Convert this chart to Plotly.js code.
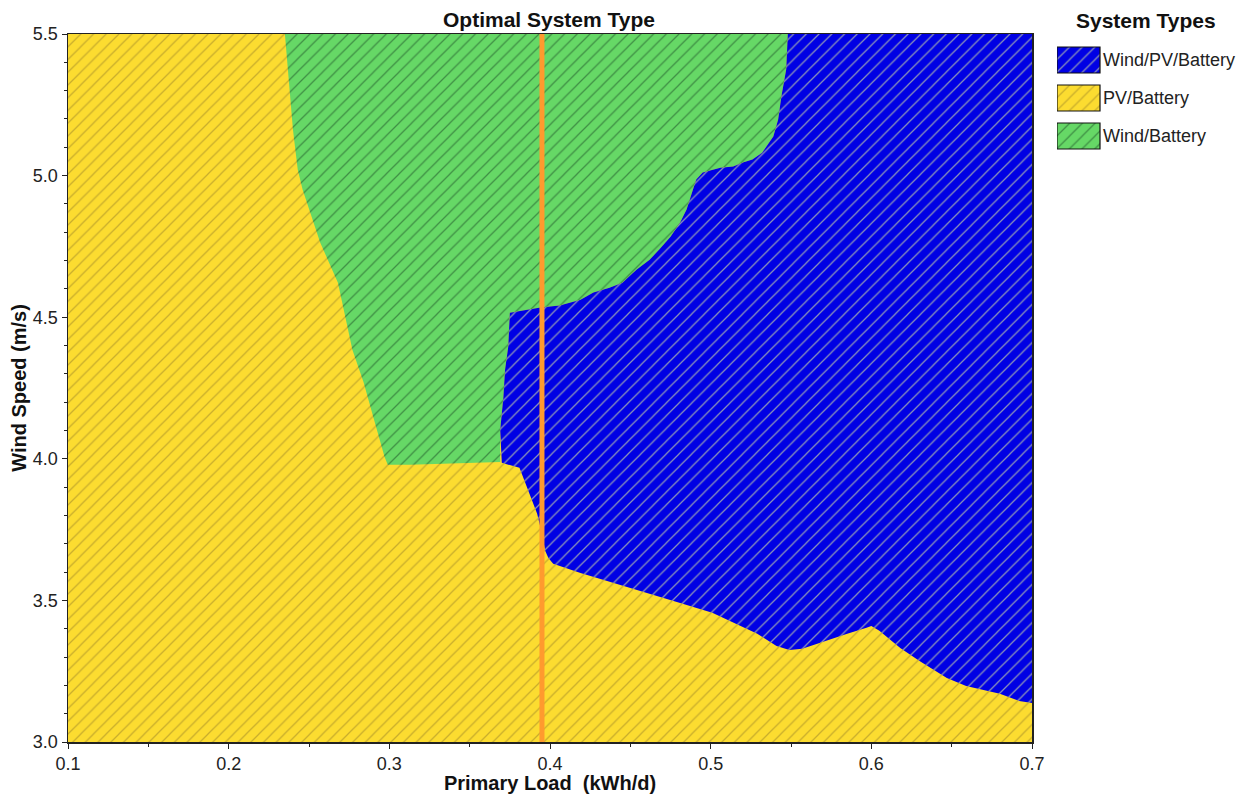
<!DOCTYPE html>
<html>
<head>
<meta charset="utf-8">
<script src="https://cdn.plot.ly/plotly-3.0.1.min.js"></script>
<style>html,body{margin:0;padding:0;background:#fff;}#chart{width:1255px;height:794px;}</style>
</head>
<body>
<div id="chart"></div>
<script>
// Axis ranges
const loadRange = [0.1, 0.7];
const windRange = [3.0, 5.5];
const xTickVals = [0.1, 0.2, 0.3, 0.4, 0.5, 0.6, 0.7];
const xTickText = ["0.1", "0.2", "0.3", "0.4", "0.5", "0.6", "0.7"];
const yTickVals = [3.0, 3.5, 4.0, 4.5, 5.0, 5.5];
const yTickText = ["3.0", "3.5", "4.0", "4.5", "5.0", "5.5"];

// System type names (legend order)
const systemTypes = ["Wind/PV/Battery", "PV/Battery", "Wind/Battery"];

// PV/Battery region (whole chart background)
const pvX = [0.1, 0.7, 0.7, 0.1, 0.1];
const pvY = [3.0, 3.0, 5.5, 5.5, 3.0];

// Wind/Battery region boundary
const windX = [0.235, 0.240, 0.243, 0.246, 0.257, 0.268, 0.277, 0.284, 0.290, 0.297, 0.299, 0.313, 0.369,
  0.369, 0.371, 0.372, 0.374, 0.375, 0.394, 0.406, 0.419, 0.427, 0.437, 0.445, 0.454, 0.462, 0.468, 0.475,
  0.481, 0.485, 0.489, 0.491, 0.495, 0.506, 0.514, 0.520, 0.526, 0.532, 0.539, 0.542, 0.544, 0.547, 0.548, 0.235];
const windY = [5.5, 5.163, 5.021, 4.951, 4.763, 4.622, 4.385, 4.269, 4.148, 4.007, 3.979, 3.979, 3.989,
  4.102, 4.219, 4.314, 4.396, 4.516, 4.534, 4.541, 4.562, 4.587, 4.604, 4.622, 4.668, 4.703, 4.739, 4.784,
  4.834, 4.880, 4.951, 4.986, 5.011, 5.028, 5.032, 5.046, 5.057, 5.081, 5.138, 5.198, 5.279, 5.375, 5.5, 5.5];

// Wind/PV/Battery region boundary
const hybridX = [0.548, 0.7, 0.7, 0.692, 0.680, 0.659, 0.647, 0.630, 0.618, 0.605, 0.600, 0.597, 0.585, 0.572,
  0.557, 0.549, 0.541, 0.529, 0.516, 0.501, 0.481, 0.460, 0.439, 0.419, 0.402, 0.399, 0.397, 0.395, 0.392,
  0.389, 0.386, 0.381, 0.370, 0.369, 0.371, 0.372, 0.374, 0.375, 0.394, 0.406, 0.419, 0.427, 0.437, 0.445,
  0.454, 0.462, 0.468, 0.475, 0.481, 0.485, 0.489, 0.491, 0.495, 0.506, 0.514, 0.520, 0.526, 0.532, 0.539,
  0.542, 0.544, 0.547, 0.548];
const hybridY = [5.5, 5.5, 3.138, 3.145, 3.170, 3.198, 3.226, 3.286, 3.332, 3.393, 3.410, 3.403, 3.382, 3.357,
  3.329, 3.325, 3.339, 3.382, 3.417, 3.456, 3.491, 3.527, 3.562, 3.597, 3.629, 3.650, 3.675, 3.735, 3.806,
  3.852, 3.894, 3.968, 3.986, 4.102, 4.219, 4.314, 4.396, 4.516, 4.534, 4.541, 4.562, 4.587, 4.604, 4.622,
  4.668, 4.703, 4.739, 4.784, 4.834, 4.880, 4.951, 4.986, 5.011, 5.028, 5.032, 5.046, 5.057, 5.081, 5.138,
  5.198, 5.279, 5.375, 5.5];

// Current primary load marker
const currentLoad = 0.395;

const blueBg = "#0000e4", blueFg = "#8c93b8";
const yellowBg = "#fcdc30", yellowFg = "#c9ad2c";
const greenBg = "#66d866", greenFg = "#3f8f45";

function pattern(bg, fg) {
  return {shape: "/", size: 9, solidity: 0.14, fgcolor: fg, bgcolor: bg, fillmode: "replace"};
}
function region(x, y, name, bg, fg) {
  return {
    type: "scatter", mode: "lines", x: x, y: y, fill: "toself", name: name,
    line: {width: 0, color: bg}, fillcolor: bg, fillpattern: pattern(bg, fg),
    hoverinfo: "name", showlegend: false
  };
}

const traces = [
  region(pvX, pvY, systemTypes[1], yellowBg, yellowFg),
  region(windX, windY, systemTypes[2], greenBg, greenFg),
  region(hybridX, hybridY, systemTypes[0], blueBg, blueFg),
  {type: "scatter", mode: "lines", x: [currentLoad, currentLoad], y: windRange,
   line: {color: "#ff9a2e", width: 5}, showlegend: false, hoverinfo: "x"}
];

// Legend key drawn on its own small axes (row i centred at y = -i)
const W = 1255, H = 794, ML = 68, MR = 5, MT = 34, MB = 52;
const plotW = W - ML - MR, plotH = H - MT - MB;
const mainRightPx = 1032, keyLeftPx = 1057, rowPx = 38, firstRowPx = 60, boxW = 43, boxHalf = 13 / rowPx;
const keyTop = (firstRowPx - MT) / rowPx;
const legendSpecs = [[systemTypes[0], blueBg, blueFg], [systemTypes[1], yellowBg, yellowFg], [systemTypes[2], greenBg, greenFg]];
const annotations = [];
legendSpecs.forEach(function (s, i) {
  const c = -i;
  traces.push({
    type: "scatter", mode: "lines", xaxis: "x2", yaxis: "y2", fill: "toself", name: s[0],
    x: [0, boxW, boxW, 0, 0], y: [c - boxHalf, c - boxHalf, c + boxHalf, c + boxHalf, c - boxHalf],
    line: {width: 1.2, color: "#111"}, fillcolor: s[1], fillpattern: pattern(s[1], s[2]),
    showlegend: false, hoverinfo: "name"
  });
  annotations.push({xref: "x2", yref: "y2", x: boxW + 1, y: c, text: s[0], showarrow: false,
    xanchor: "left", yanchor: "middle", font: {size: 18, color: "#222"}});
});
annotations.push({xref: "paper", yref: "paper", x: (1146 - ML) / plotW, y: 1 + (MT - 21) / plotH,
  text: "<b>System Types</b>", showarrow: false, xanchor: "center", yanchor: "middle",
  font: {size: 21, color: "#111"}});

const layout = {
  width: W, height: H,
  margin: {l: ML, r: MR, t: MT, b: MB, autoexpand: false},
  paper_bgcolor: "#ffffff", plot_bgcolor: "#ffffff",
  font: {family: "Liberation Sans, Arial, sans-serif", size: 16, color: "#111"},
  title: {text: "<b>Optimal System Type</b>", xref: "container", x: 549 / W, xanchor: "center",
          yref: "container", y: 1 - 20 / H, yanchor: "middle", font: {size: 21, color: "#111"}},
  xaxis: {
    domain: [0, (mainRightPx - ML) / plotW],
    range: loadRange, tickvals: xTickVals, ticktext: xTickText, showgrid: false, zeroline: false,
    showline: true, linecolor: "#222", linewidth: 1.5, mirror: true,
    ticks: "outside", ticklen: 5, tickcolor: "#222",
    minor: {dtick: 0.05, ticks: "outside", ticklen: 3, tickcolor: "#222", showgrid: false},
    tickfont: {size: 18, color: "#222"},
    title: {text: "<b>Primary Load\u00a0 (kWh/d)</b>", font: {size: 20, color: "#111"}, standoff: 1}
  },
  yaxis: {
    range: windRange, tickvals: yTickVals, ticktext: yTickText, showgrid: false, zeroline: false,
    showline: true, linecolor: "#222", linewidth: 1.5, mirror: true,
    ticks: "outside", ticklen: 5, tickcolor: "#222",
    minor: {dtick: 0.1, ticks: "outside", ticklen: 3, tickcolor: "#222", showgrid: false},
    tickfont: {size: 18, color: "#222"},
    title: {text: "<b>Wind Speed (m/s)</b>", font: {size: 20, color: "#111"}, standoff: 1}
  },
  xaxis2: {domain: [(keyLeftPx - ML) / plotW, 1], range: [0, plotW * (1 - (keyLeftPx - ML) / plotW)],
           visible: false, fixedrange: true},
  yaxis2: {domain: [0, 1], anchor: "x2", range: [keyTop - plotH / rowPx, keyTop], visible: false, fixedrange: true},
  annotations: annotations,
  showlegend: false
};

Plotly.newPlot("chart", traces, layout, {displayModeBar: false, staticPlot: true});
</script>
</body>
</html>
